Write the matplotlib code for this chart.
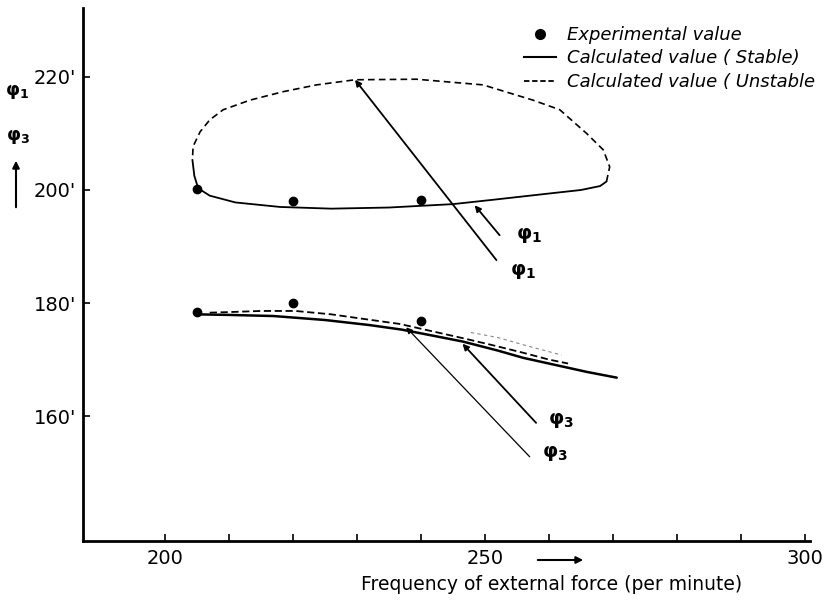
import matplotlib
matplotlib.use('Agg')
import matplotlib.pyplot as plt
from matplotlib.lines import Line2D
from matplotlib.patches import FancyArrowPatch

plt.rcParams['font.family'] = ['DejaVu Sans']
plt.rcParams['mathtext.fontset'] = 'dejavusans'

# experimental points (frequency, angle in degrees)
exp_x = [205, 220, 240, 205, 220, 240]
exp_y = [200.1, 198.0, 198.2, 178.5, 180.0, 176.9]

# phi1 loop, stable (solid) part
p1s_x = [204.3, 204.6, 205.2, 207.0, 211.0, 218.0, 226.0, 235.0, 245.0, 252.3, 260.2, 265.0, 268.0, 269.0]
p1s_y = [205.3, 202.5, 200.3, 199.0, 197.8, 197.0, 196.7, 196.9, 197.5, 198.4, 199.4, 200.0, 200.7, 201.5]
# phi1 loop, unstable (dashed) part
p1u_x = [269.0, 269.5, 268.5, 265.9, 261.7, 257.5, 249.7, 239.3, 229.7, 223.7, 218.5, 213.3, 209.1, 207.0, 205.5, 204.4, 204.3]
p1u_y = [201.5, 204.1, 207.1, 210.0, 214.2, 215.9, 218.6, 219.6, 219.5, 218.6, 217.4, 215.9, 214.2, 212.4, 210.3, 207.7, 205.3]

# phi3 stable (solid)
p3s_x = [205.0, 210.0, 217.0, 225.0, 232.0, 237.0, 242.0, 246.5, 252.0, 256.0, 262.0, 266.0, 270.6]
p3s_y = [178.0, 177.9, 177.7, 177.0, 176.1, 175.3, 174.2, 173.2, 171.6, 170.3, 168.8, 167.8, 166.8]
# phi3 unstable (dashed)
p3u_x = [207.0, 210.0, 215.0, 220.4, 226.0, 231.0, 236.7, 241.0, 246.5, 251.0, 256.0, 260.0, 263.0]
p3u_y = [178.3, 178.4, 178.6, 178.6, 178.0, 177.2, 176.3, 175.2, 173.8, 172.6, 171.2, 170.0, 169.3]
# faint second dashed trace near the end of phi3
p3f_x = [247.8, 252.0, 257.0, 262.0]
p3f_y = [174.8, 173.9, 172.3, 170.8]

# arrows: (label, tip, tail, label position, line width)
arrows = [
    (r'$\boldsymbol{\varphi}_\mathbf{1}$', (248.4, 197.3), (252.3, 192.0), (254.8, 192.0), 1.3),
    (r'$\boldsymbol{\varphi}_\mathbf{1}$', (229.7, 219.5), (251.8, 187.6), (254.0, 185.6), 1.3),
    (r'$\boldsymbol{\varphi}_\mathbf{3}$', (246.5, 172.8), (258.0, 158.8), (259.8, 159.3), 1.3),
    (r'$\boldsymbol{\varphi}_\mathbf{3}$', (237.7, 175.7), (257.0, 152.8), (259.0, 153.4), 0.9),
]

x_ticks = [200, 210, 220, 230, 240, 250, 260, 270, 280, 290, 300]
x_labels = ['200', '', '', '', '', '250', '', '', '', '', '300']
y_ticks = [160, 180, 200, 220]
y_labels = ["160'", "180'", "200'", "220'"]

fig = plt.figure(figsize=(8.26, 6.01), dpi=100)
ax = fig.add_axes([83 / 826, 60 / 601, 727 / 826, 533 / 601])

ax.plot(p1s_x, p1s_y, color='black', lw=1.3, solid_capstyle='round')
ax.plot(p1u_x, p1u_y, color='black', lw=1.2, linestyle=(0, (4, 2.5)))
ax.plot(p3s_x, p3s_y, color='black', lw=1.8, solid_capstyle='round')
ax.plot(p3u_x, p3u_y, color='black', lw=1.3, linestyle=(0, (4, 2)))
ax.plot(p3f_x, p3f_y, color='#888888', lw=0.8, linestyle=(0, (3, 3)))
ax.plot(exp_x, exp_y, 'o', color='black', ms=6)

for lab, tip, tail, txt, lw in arrows:
    ax.annotate('', xy=tip, xytext=tail,
                arrowprops=dict(arrowstyle='-|>', color='black', lw=lw,
                                mutation_scale=9, shrinkA=0, shrinkB=0))
    ax.text(txt[0], txt[1], lab, fontsize=14, va='center', ha='left')

ax.set_xlim(187.2, 300.8)
ax.set_ylim(137.9, 232.2)
ax.set_xticks(x_ticks)
ax.set_xticklabels(x_labels, fontsize=14)
ax.set_yticks(y_ticks)
ax.set_yticklabels(y_labels, fontsize=14)
ax.tick_params(direction='in', length=5, width=1.2, pad=6)
ax.tick_params(axis='y', pad=5)
for side in ['top', 'right']:
    ax.spines[side].set_visible(False)
for side in ['left', 'bottom']:
    ax.spines[side].set_linewidth(2)

handles = [
    Line2D([], [], marker='o', color='black', linestyle='none', ms=7),
    Line2D([], [], color='black', lw=1.5),
    Line2D([], [], color='black', lw=1.3, linestyle=(0, (3, 1.5))),
]
labels = ['Experimental value', 'Calculated value ( Stable)', 'Calculated value ( Unstable']
ax.legend(handles, labels, loc='upper left', bbox_to_anchor=(524 / 826, 1 - 26 / 601),
          bbox_transform=fig.transFigure, frameon=False, borderpad=0, borderaxespad=0,
          handlelength=1.75, handletextpad=0.65, labelspacing=0.3,
          prop={'size': 13, 'style': 'italic'})

fig.text(552 / 826, 1 - 585 / 601, 'Frequency of external force (per minute)',
         fontsize=13.5, ha='center', va='center')
fig.add_artist(FancyArrowPatch((535 / 826, 1 - 560 / 601), (586 / 826, 1 - 560 / 601),
               transform=fig.transFigure, arrowstyle='-|>', mutation_scale=10, lw=1.5, color='black'))

fig.text(17 / 826, 1 - 92 / 601, r'$\boldsymbol{\varphi}_\mathbf{1}$', fontsize=13, ha='center', va='center')
fig.text(18 / 826, 1 - 137 / 601, r'$\boldsymbol{\varphi}_\mathbf{3}$', fontsize=13, ha='center', va='center')
fig.add_artist(FancyArrowPatch((16 / 826, 1 - 210 / 601), (16 / 826, 1 - 158 / 601),
               transform=fig.transFigure, arrowstyle='-|>', mutation_scale=10, lw=1.5, color='black'))

fig.savefig('out.png', dpi=100)
